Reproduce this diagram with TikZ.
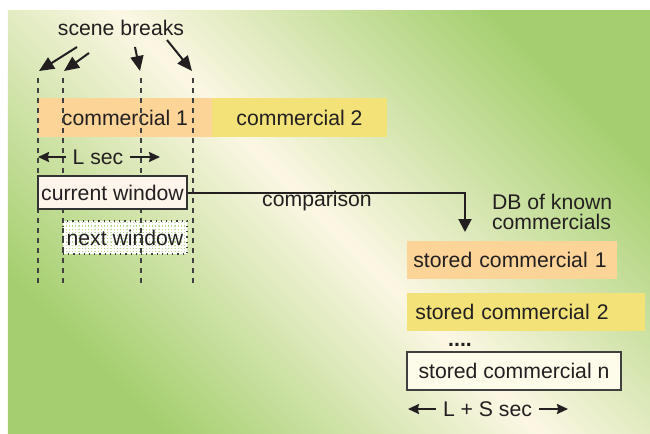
\documentclass[tikz,border=0pt]{standalone}
\usepackage{fontspec}
\setmainfont{Liberation Sans}
\usepackage{tikz}
\usetikzlibrary{calc}
\usetikzlibrary{positioning}
\usetikzlibrary{patterns.meta}
\usetikzlibrary{arrows.meta}
\usepackage{xcolor}

\definecolor{bggreen}{RGB}{164,207,110}
\definecolor{bgcream}{RGB}{252,247,228}
\definecolor{comorange}{RGB}{253,212,152}
\definecolor{comyellow}{RGB}{242,226,120}
\definecolor{wincream}{RGB}{253,245,234}
\definecolor{stocream}{RGB}{253,251,234}
\definecolor{txt}{RGB}{35,31,32}

\begin{document}
\begin{tikzpicture}[
		x=0.5pt, y=-0.5pt,
		every node/.style = {font=\fontsize{10.6}{12}\selectfont, text=txt},
		com/.style = {rectangle, inner sep=0, minimum height=19.5pt},
		win/.style = {rectangle, inner sep=0, minimum height=16.5pt},
		sto/.style = {rectangle, inner ysep=0, minimum height=19pt, align=left},
		brk/.style = {-{Triangle[length=7.5pt, width=6.5pt]}, line width=1pt, txt},
		dsh/.style = {dash pattern=on 2.5pt off 2.5pt, line width=0.7pt, black!75},
		dim/.style = {-{Stealth[length=5.5pt, width=5pt, inset=0.6pt]}, line width=0.9pt, txt},
		conn/.style = {-{Triangle[length=6.5pt, width=6.5pt]}, line width=1pt, txt}
		]
		
		%Background
		\useasboundingbox (0,0) rectangle (650,434);
		\shade[left color=bggreen, right color=bggreen, middle color=bgcream, shading angle=135] (8,10) rectangle (650,434);
		
		%Nodes
		\node		(sb)	at	(121,28)		{scene breaks};
		\node[com, fill=comorange, minimum width=87pt]	(c1)	at	(125,117.5)	{commercial 1};
		\node[com, fill=comyellow, minimum width=87.5pt]	(c2)	at	(299.5,117.5)	{commercial 2};
		\node		(ls)	at	(98,157)		{L sec};
		\node[win, draw=black!75, line width=0.6pt, dotted, preaction={fill=white}, pattern={Lines[angle=0, distance=1.6pt, line width=0.6pt]}, pattern color=bggreen!80, minimum width=62pt]	(nw)	at	(125,237.5)	{next window};
		
		%Scene breaks
		\coordinate	(b1t)	at	(38,78);
		\coordinate	(b1b)	at	(38,283);
		\coordinate	(b2t)	at	(63,78);
		\coordinate	(b2b)	at	(63,283);
		\coordinate	(b3t)	at	(141,78);
		\coordinate	(b3b)	at	(141,283);
		\coordinate	(b4t)	at	(193,78);
		\coordinate	(b4b)	at	(193,283);
		\draw[dsh]	(b1t) -- (b1b);
		\draw[dsh]	(b2t) -- (b2b);
		\draw[dsh]	(b3t) -- (b3b);
		\draw[dsh]	(b4t) -- (b4b);
		
		\node[win, draw=black!80, line width=0.7pt, fill=wincream, minimum width=74.5pt]	(cw)	at	(112.5,192.5)	{current window};
		\node		(cmp)	at	(317,201)		{comparison};
		\node[anchor=west, align=left, font=\fontsize{10.6}{10}\selectfont]	(db)	at	(485,212)	{DB of known\\commercials};
		\node[sto, fill=comorange, anchor=west, inner xsep=3pt, text width=99pt]	(s1)	at	(407,260)	{stored commercial 1};
		\node[sto, fill=comyellow, anchor=west, inner xsep=4pt, text width=111pt]	(s2)	at	(407,312)	{stored commercial 2};
		\node[anchor=base, font=\fontsize{10.6}{12}\bfseries]	(dots)	at	(460,346)	{....};
		\node[sto, fill=stocream, draw=black!75, line width=1pt, minimum width=107pt]	(sn)	at	(514,370.5)	{stored commercial n};
		\node		(lss)	at	(487.5,409)		{L + S sec};
		
		\coordinate	(dbin)	at	(465,232);
		\coordinate	(lsl)	at	(38,157);
		\coordinate	(lsr)	at	(160,157);
		\coordinate	(lssl)	at	(408,409);
		\coordinate	(lssr)	at	(568,409);
		
		%Lines
		\draw[brk]	(77,47)		--	(39,71);
		\draw[brk]	(89,53)		--	(64,71);
		\draw[brk]	(135,47)	--	(140,71);
		\draw[brk]	(167,40)	--	(192,71);
		\draw[dim]	(ls.west)	--	(lsl);
		\draw[dim]	(ls.east)	--	(lsr);
		\draw[dim]	(lss.west)	--	(lssl);
		\draw[dim]	(lss.east)	--	(lssr);
		\draw[conn]	(cw.east)	-|	(dbin);
	\end{tikzpicture}
\end{document}
